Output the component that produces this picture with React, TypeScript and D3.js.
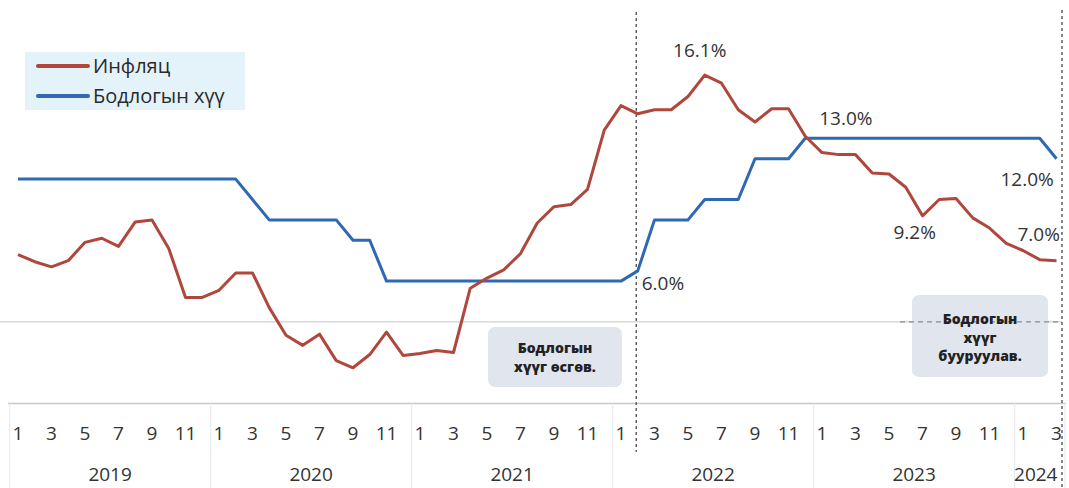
import React from "react";
import * as d3 from "d3";

const years = ["2019", "2020", "2021", "2022", "2023", "2024"];
const monthsInYear = [12, 12, 12, 12, 12, 3];
const tickMonths = [1, 3, 5, 7, 9, 11];

const inflation = [
  7.3, 6.95, 6.7, 7.0, 7.9, 8.1, 7.7, 8.9, 9.0, 7.6, 5.2, 5.2,
  5.55, 6.4, 6.4, 4.7, 3.35, 2.85, 3.4, 2.1, 1.75, 2.4, 3.5, 2.35,
  2.45, 2.6, 2.5, 5.65, 6.15, 6.55, 7.35, 8.85, 9.65, 9.75, 10.5, 13.4,
  14.6, 14.2, 14.4, 14.4, 15.05, 16.1, 15.7, 14.4, 13.8, 14.45, 14.45, 13.1,
  12.3, 12.2, 12.2, 11.3, 11.25, 10.6, 9.2, 10.0, 10.05, 9.1, 8.6, 7.85,
  7.5, 7.05, 7.0,
];

const policyRate = [
  11, 11, 11, 11, 11, 11, 11, 11, 11, 11, 11, 11,
  11, 11, 10, 9, 9, 9, 9, 9, 8, 8, 6, 6,
  6, 6, 6, 6, 6, 6, 6, 6, 6, 6, 6, 6,
  6, 6.5, 9, 9, 9, 10, 10, 10, 12, 12, 12, 13,
  13, 13, 13, 13, 13, 13, 13, 13, 13, 13, 13, 13,
  13, 13, 12,
];

const seriesNames = ["Инфляц", "Бодлогын хүү"];

const valueLabels = [
  { i: 41, text: "16.1%" },
  { i: 47, text: "13.0%" },
  { i: 62, text: "12.0%" },
  { i: 37, text: "6.0%" },
  { i: 54, text: "9.2%" },
  { i: 62, text: "7.0%" },
];

const eventIdx = [37, 62];
const boxTexts = [
  ["Бодлогын", "хүүг өсгөв."],
  ["Бодлогын", "хүүг", "бууруулав."],
];

const RED = "#b0473c";
const BLUE = "#2f68b3";
const FONT = "'Open Sans', 'Noto Sans', sans-serif";

export default function App() {
  const W = 1069;
  const H = 488;
  const n = inflation.length;
  const x = d3.scaleLinear().domain([0, n - 1]).range([18, 1056.5]);
  const step = x(1) - x(0);
  const y = d3.scaleLinear().domain([0, 13]).range([403.5, 138.3]);

  const line = d3
    .line<number>()
    .x((_, i) => x(i))
    .y((d) => y(d));

  const cats: { year: number; month: number; idx: number }[] = [];
  let k = 0;
  monthsInYear.forEach((m, yi) => {
    for (let j = 1; j <= m; j++) cats.push({ year: yi, month: j, idx: k++ });
  });
  const yearStart: number[] = [];
  let acc = 0;
  monthsInYear.forEach((m) => {
    yearStart.push(acc);
    acc += m;
  });

  const labelPos: Record<string, { dx: number; y: number; anchor: string }> = {
    "16.1%": { dx: -5, y: 57, anchor: "middle" },
    "13.0%": { dx: 14, y: 125, anchor: "start" },
    "12.0%": { dx: -56, y: 186, anchor: "start" },
    "6.0%": { dx: 4, y: 290, anchor: "start" },
    "9.2%": { dx: -29, y: 239, anchor: "start" },
    "7.0%": { dx: -39, y: 241, anchor: "start" },
  };

  return (
    <svg
      width={W}
      height={H}
      style={{ position: "absolute", left: 0, top: 0, background: "#fff" }}
      fontFamily={FONT}
    >
      <line x1={0} x2={1062} y1={y(4)} y2={y(4)} stroke="#d0d0d0" strokeWidth={1.2} />

      <line x1={8} x2={1066} y1={y(0)} y2={y(0)} stroke="#c8c8c8" strokeWidth={1.5} />
      {yearStart.map((s, i) => (
        <line
          key={"ys" + i}
          x1={x(s) - step / 2}
          x2={x(s) - step / 2}
          y1={y(0)}
          y2={H}
          stroke="#ececec"
          strokeWidth={1.2}
        />
      ))}
      <line x1={x(n - 1) + step / 2} x2={x(n - 1) + step / 2} y1={y(0)} y2={H} stroke="#ececec" strokeWidth={1.2} />

      {cats
        .filter((c) => tickMonths.includes(c.month))
        .map((c) => (
          <text key={"m" + c.idx} x={x(c.idx)} y={440} textAnchor="middle" fontSize={19} fill="#333">
            {c.month}
          </text>
        ))}
      {years.map((yr, i) => {
        const a = x(yearStart[i]) - step / 2;
        const b = x(yearStart[i] + monthsInYear[i] - 1) + step / 2;
        return (
          <text key={yr} x={(a + b) / 2 - (i === 5 ? 4 : 0)} y={481} textAnchor="middle" fontSize={19} fill="#333">
            {yr}
          </text>
        );
      })}

      <rect x={488} y={327} width={134} height={60} rx={7} fill="#e1e6ee" />
      {boxTexts[0].map((t, i) => (
        <text key={"b0" + i} x={555} y={353 + i * 19} textAnchor="middle" fontSize={14} fontWeight={800} fill="#222">
          {t}
        </text>
      ))}
      <rect x={912} y={295} width={136} height={82} rx={7} fill="#e1e6ee" />
      <line x1={900} x2={1062} y1={y(4)} y2={y(4)} stroke="#8a8a8a" strokeWidth={1.2} strokeDasharray="5,4" />
      {boxTexts[1].map((t, i) => (
        <text key={"b1" + i} x={980} y={324 + i * 18.5} textAnchor="middle" fontSize={14} fontWeight={800} fill="#222">
          {t}
        </text>
      ))}

      <line x1={x(eventIdx[0]) - 1.5} x2={x(eventIdx[0]) - 1.5} y1={12} y2={452} stroke="#555" strokeWidth={1.4} strokeDasharray="3,3" />
      <line x1={1062} x2={1062} y1={10} y2={H} stroke="#555" strokeWidth={1.4} strokeDasharray="3,3" />

      <path d={line(policyRate) || ""} fill="none" stroke={BLUE} strokeWidth={3} strokeLinejoin="round" />
      <path d={line(inflation) || ""} fill="none" stroke={RED} strokeWidth={3} strokeLinejoin="round" />

      {valueLabels.map((l, i) => {
        const p = labelPos[l.text];
        return (
          <text key={"vl" + i} x={x(l.i) + p.dx} y={p.y} textAnchor={p.anchor as any} fontSize={19} fill="#333">
            {l.text}
          </text>
        );
      })}

      <rect x={25} y={52} width={220} height={58} fill="#e4f3fa" />
      <line x1={38} x2={88} y1={66} y2={66} stroke={RED} strokeWidth={4} strokeLinecap="round" />
      <line x1={38} x2={88} y1={96} y2={96} stroke={BLUE} strokeWidth={4} strokeLinecap="round" />
      <text x={93} y={73} fontSize={20} fill="#2a2a2a">{seriesNames[0]}</text>
      <text x={93} y={103} fontSize={20} fill="#2a2a2a">{seriesNames[1]}</text>
    </svg>
  );
}
